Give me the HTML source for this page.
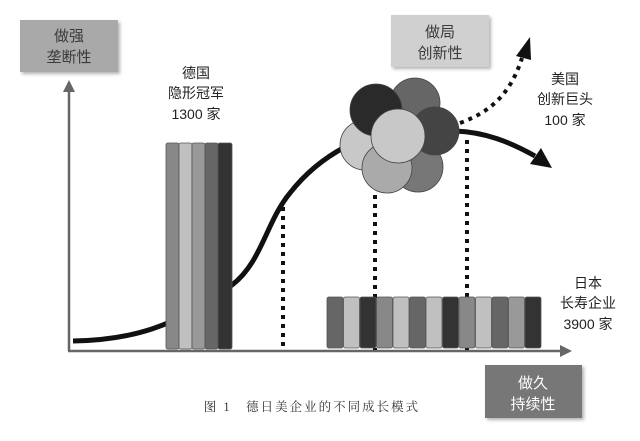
<!DOCTYPE html>
<html><head><meta charset="utf-8"><style>
body{margin:0;background:#fff;}
svg text{font-family:"Liberation Sans","Noto Sans CJK SC",sans-serif;}
</style></head><body>
<svg width="640" height="436" viewBox="0 0 640 436" xmlns="http://www.w3.org/2000/svg">
<defs><filter id="sh" x="-10%" y="-10%" width="130%" height="130%"><feDropShadow dx="2" dy="2" stdDeviation="1.5" flood-color="#000" flood-opacity="0.3"/></filter></defs>
<rect x="20" y="20" width="98" height="52" fill="#a9a9a9" filter="url(#sh)"/>
<text x="69" y="41" font-size="15" fill="#3a3a3a" text-anchor="middle">做强</text>
<text x="69" y="62" font-size="15" fill="#3a3a3a" text-anchor="middle">垄断性</text>
<rect x="391" y="15" width="98" height="52" fill="#d0d0d0" filter="url(#sh)"/>
<text x="440" y="37" font-size="15" fill="#3a3a3a" text-anchor="middle">做局</text>
<text x="440" y="58" font-size="15" fill="#3a3a3a" text-anchor="middle">创新性</text>
<rect x="485" y="365" width="97" height="53" fill="#777" filter="url(#sh)"/>
<text x="533" y="388" font-size="15" fill="#fff" text-anchor="middle">做久</text>
<text x="533" y="409" font-size="15" fill="#fff" text-anchor="middle">持续性</text>
<line x1="69" y1="351" x2="69" y2="90" stroke="#666" stroke-width="2.5"/>
<polygon points="69,80 63,92 75,92" fill="#666"/>
<line x1="68" y1="351" x2="562" y2="351" stroke="#666" stroke-width="2.5"/>
<polygon points="572,351 560,345 560,357" fill="#666"/>
<g stroke="#111" stroke-width="4" stroke-dasharray="4,5">
<line x1="283" y1="207" x2="283" y2="350"/>
<line x1="375" y1="195" x2="375" y2="350"/>
<line x1="467" y1="140" x2="467" y2="350"/>
</g>
<path d="M73,341 C130,340 175,328 232,285 C262,262 266,222 290,193 C308,170 328,156 345,147" fill="none" stroke="#111" stroke-width="5"/>
<path d="M455,131 C485,132 510,142 535,156" fill="none" stroke="#111" stroke-width="5"/>
<polygon points="552,168 530,164 541,148" fill="#111"/>
<path d="M460,123 C490,112 510,95 522,58" fill="none" stroke="#111" stroke-width="4" stroke-dasharray="4,5"/>
<polygon points="530,37 516,56 531,60" fill="#111"/>
<g stroke="#555" stroke-width="0.8">
<rect x="166" y="143" width="13" height="206" rx="2" fill="#888"/>
<rect x="179" y="143" width="13" height="206" rx="2" fill="#c0c0c0"/>
<rect x="192" y="143" width="13" height="206" rx="2" fill="#999"/>
<rect x="205" y="143" width="13" height="206" rx="2" fill="#666"/>
<rect x="218" y="143" width="14" height="206" rx="2" fill="#333"/>
</g>
<g stroke="#555" stroke-width="0.8">
<rect x="327" y="297" width="16" height="51" rx="2" fill="#666"/>
<rect x="343.5" y="297" width="16" height="51" rx="2" fill="#c0c0c0"/>
<rect x="360" y="297" width="16" height="51" rx="2" fill="#333"/>
<rect x="376.5" y="297" width="16" height="51" rx="2" fill="#888"/>
<rect x="393" y="297" width="16" height="51" rx="2" fill="#c0c0c0"/>
<rect x="409.5" y="297" width="16" height="51" rx="2" fill="#666"/>
<rect x="426" y="297" width="16" height="51" rx="2" fill="#c0c0c0"/>
<rect x="442.5" y="297" width="16" height="51" rx="2" fill="#333"/>
<rect x="459" y="297" width="16" height="51" rx="2" fill="#888"/>
<rect x="475.5" y="297" width="16" height="51" rx="2" fill="#c0c0c0"/>
<rect x="492" y="297" width="16" height="51" rx="2" fill="#666"/>
<rect x="508.5" y="297" width="16" height="51" rx="2" fill="#999"/>
<rect x="525" y="297" width="16" height="51" rx="2" fill="#333"/>
</g>
<g stroke="#444" stroke-width="0.8">
<circle cx="418" cy="167" r="25" fill="#777"/>
<circle cx="365" cy="145" r="25" fill="#c8c8c8"/>
<circle cx="415" cy="103" r="25" fill="#666"/>
<circle cx="376" cy="110" r="26" fill="#2a2a2a"/>
<circle cx="435" cy="131" r="24" fill="#444"/>
<circle cx="387" cy="168" r="25" fill="#aaa"/>
<circle cx="398" cy="136" r="27" fill="#c8c8c8"/>
</g>
<g font-size="14" fill="#222" text-anchor="middle">
<text x="196" y="78">德国</text>
<text x="196" y="98">隐形冠军</text>
<text x="196" y="119">1300 家</text>
<text x="565" y="84">美国</text>
<text x="565" y="104">创新巨头</text>
<text x="565" y="125">100 家</text>
<text x="588" y="288">日本</text>
<text x="588" y="308">长寿企业</text>
<text x="588" y="329">3900 家</text>
</g>
<text x="312" y="411" font-size="12.5" letter-spacing="2" fill="#333" text-anchor="middle" style="font-family:'Liberation Serif','Noto Serif CJK SC',serif">图 1　德日美企业的不同成长模式</text>
</svg>
</body></html>
